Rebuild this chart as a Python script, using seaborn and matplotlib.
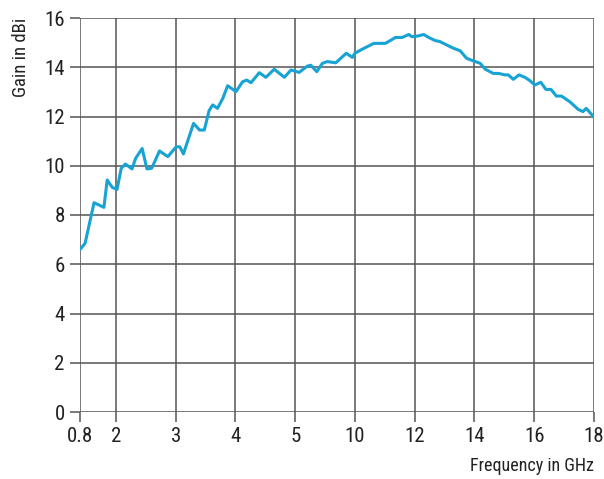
import numpy as np
import pandas as pd
import matplotlib
matplotlib.use("Agg")
import matplotlib.pyplot as plt
import seaborn as sns

# Valeurs
frequence_ghz = [0.8, 0.97, 1.27, 1.6, 1.71, 1.88, 2.02, 2.09, 2.16, 2.27, 2.33, 2.44,
                 2.52, 2.6, 2.73, 2.87, 3.01, 3.07, 3.13, 3.3, 3.4, 3.48, 3.56, 3.62,
                 3.7, 3.79, 3.87, 4.01, 4.12, 4.19, 4.26, 4.4, 4.51, 4.65, 4.82, 4.93,
                 5.33, 6.03, 6.31, 6.81, 7.28, 7.69, 8.39, 9.28, 9.78, 10.0, 10.24,
                 10.63, 11.02, 11.36, 11.58, 11.8, 11.91, 12.11, 12.3, 12.47, 12.69,
                 12.83, 13.08, 13.3, 13.52, 13.74, 13.94, 14.19, 14.36, 14.63, 14.8,
                 15.02, 15.13, 15.3, 15.49, 15.69, 15.86, 16.02, 16.22, 16.39, 16.56,
                 16.74, 16.91, 17.19, 17.47, 17.63, 17.74, 18.0]
gain_dbi = [6.6, 6.85, 8.5, 8.31, 9.42, 9.12, 9.04, 9.9, 10.07, 9.87, 10.3, 10.7,
            9.87, 9.9, 10.6, 10.37, 10.77, 10.77, 10.48, 11.72, 11.45, 11.45, 12.24, 12.47,
            12.33, 12.74, 13.25, 13.01, 13.41, 13.48, 13.37, 13.78, 13.59, 13.92, 13.59, 13.89,
            13.79, 14.05, 14.08, 13.82, 14.16, 14.23, 14.18, 14.57, 14.4, 14.57, 14.73,
            14.97, 14.97, 15.21, 15.21, 15.33, 15.24, 15.27, 15.33, 15.21, 15.08,
            15.05, 14.9, 14.77, 14.67, 14.36, 14.27, 14.16, 13.92, 13.75, 13.75,
            13.69, 13.69, 13.51, 13.69, 13.59, 13.45, 13.28, 13.39, 13.1, 13.1,
            12.83, 12.83, 12.6, 12.29, 12.2, 12.33, 11.97]

graduations_x = [0.8, 2, 3, 4, 5, 10, 12, 14, 16, 18]
etiquettes_x = ['0.8', '2', '3', '4', '5', '10', '12', '14', '16', '18']
# position de chaque graduation sur l'axe (echelle par morceaux)
positions_x = [-0.6, 0, 1, 2, 3, 4, 5, 6, 7, 8]
graduations_y = [0, 2, 4, 6, 8, 10, 12, 14, 16]

df = pd.DataFrame({'freq': frequence_ghz, 'gain': gain_dbi})


def vers_position(f):
    return np.interp(f, graduations_x, positions_x)


def depuis_position(p):
    return np.interp(p, positions_x, graduations_x)


sns.set_style('white')
plt.rcParams['font.family'] = ['Liberation Sans Narrow', 'Roboto Condensed', 'Roboto', 'DejaVu Sans']

fig = plt.figure(figsize=(6.04, 4.79), dpi=100)
ax = fig.add_axes([80 / 604, 67 / 479, 514 / 604, 394 / 479])

sns.lineplot(data=df, x='freq', y='gain', ax=ax, color='#17a3d3', linewidth=2.2)

ax.set_xscale('function', functions=(vers_position, depuis_position))
ax.set_xlim(0.8, 18)
ax.set_ylim(0, 16)
ax.set_xticks(graduations_x)
ax.set_xticklabels(etiquettes_x)
ax.set_yticks(graduations_y)
ax.minorticks_off()

ax.grid(True, color='#555555', linewidth=1.1)
for s in ax.spines.values():
    s.set_visible(False)
ax.tick_params(axis='both', direction='out', length=7, width=1.1, color='#555555',
               labelsize=15, labelcolor='#222222', pad=4)
ax.tick_params(axis='x', bottom=True, pad=4)
ax.tick_params(axis='y', left=True)

ax.set_xlabel('Frequency in GHz', loc='right', fontsize=13, color='#222222', labelpad=8)
ax.set_ylabel('Gain in dBi', loc='top', fontsize=13.5, color='#222222', labelpad=10)

fig.savefig('out.png', dpi=100)
